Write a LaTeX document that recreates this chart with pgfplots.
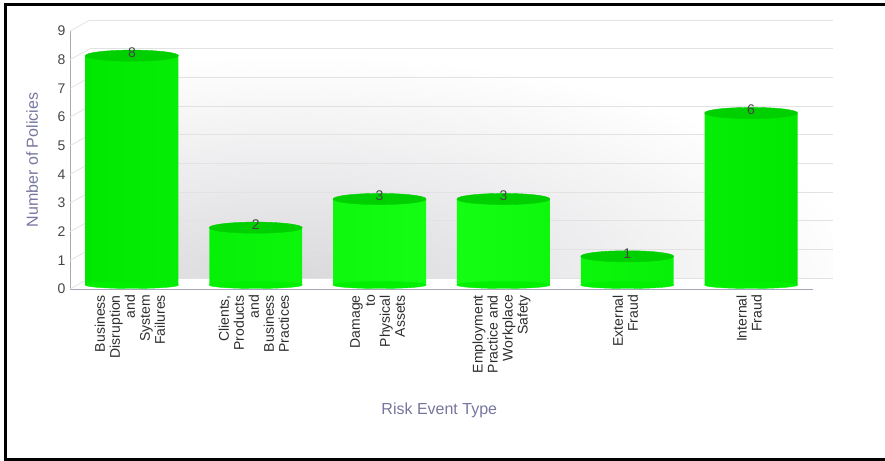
\documentclass[border=0pt]{standalone}
\usepackage{pgfplots}
\usepackage{pgfplotstable}
\pgfplotsset{compat=1.18}
\usepackage{fontspec}
\setmainfont{Liberation Sans}
\definecolor{axtitle}{RGB}{118,118,158}
\definecolor{ticktxt}{RGB}{70,70,70}
\definecolor{cattxt}{RGB}{45,45,45}
\definecolor{gridc}{RGB}{226,226,226}
\definecolor{barmid}{RGB}{20,255,20}
\definecolor{baredge}{RGB}{0,232,0}
\definecolor{bartop}{RGB}{0,208,0}
\definecolor{barbot}{RGB}{0,240,0}
\definecolor{xaxisc}{RGB}{165,165,185}
\definecolor{yaxisc}{RGB}{170,170,170}
\definecolor{glowc}{RGB}{216,216,218}
\definecolor{glowm}{RGB}{234,234,236}
\pgfdeclareradialshading{wallglow}{\pgfpoint{0bp}{0bp}}{color(0bp)=(glowc); color(9bp)=(glowm); color(20bp)=(white); color(50bp)=(white)}
\pgfplotstableread{
x y
0 8
1 2
2 3
3 3
4 1
5 6
}\policies
\begin{document}
\begin{tikzpicture}
\useasboundingbox (0pt,0pt) rectangle (885pt,-460pt);
\begin{axis}[
  at={(70pt,-289pt)}, anchor=south west,
  scale only axis, width=743pt, height=258pt,
  xmin=-0.5, xmax=5.5, ymin=0, ymax=9,
  clip=false,
  axis lines=left,
  x axis line style={-, draw=xaxisc, line width=1pt},
  y axis line style={-, draw=yaxisc, line width=0.8pt},
  major tick length=0pt,
  ytick={0,1,...,9},
  xtick={0,1,2,3,4,5},
  xticklabels={
    {Business\\Disruption\\and\\System\\Failures},
    {Clients,\\Products\\and\\Business\\Practices},
    {Damage\\to\\Physical\\Assets},
    {Employment\\Practice and\\Workplace\\Safety},
    {External\\Fraud},
    {Internal\\Fraud}},
  /pgf/number format/assume math mode=true,
  yticklabel style={font=\fontsize{14}{15}\selectfont, text=ticktxt, xshift=-1pt},
  xticklabel style={font=\fontsize{14}{15}\selectfont, text=cattxt, rotate=90, anchor=east, align=right, inner sep=2pt, xshift=-4pt, yshift=2pt},
  every axis y label/.style={at={(axis description cs:-0.0511,0.5)}, rotate=90, anchor=center},
  every axis x label/.style={at={(axis description cs:0.497,-0.469)}, anchor=center},
  ylabel={Number of Policies},
  xlabel={Risk Event Type},
  label style={font=\fontsize{16}{18}\selectfont, text=axtitle},
]
% back wall with soft grey glow at the lower left
\begin{scope}
  \clip ([shift={(20pt,11pt)}]axis cs:-0.5,0) rectangle ([shift={(20pt,11pt)}]axis cs:5.5,9);
  \shade[shading=wallglow] (axis cs:1.3,0.1) ellipse [x radius=720pt, y radius=290pt];
\end{scope}
\pgfplotsinvokeforeach{0,1,...,9}{
  \draw[gridc, line width=0.8pt] ([shift={(20pt,11pt)}]axis cs:-0.5,#1) -- ([shift={(20pt,11pt)}]axis cs:5.5,#1);
  \draw[gridc, line width=0.8pt] (axis cs:-0.5,#1) -- ([shift={(20pt,11pt)}]axis cs:-0.5,#1);
}
% cylinders: bottom ellipse, body, top ellipse
\addplot[only marks, color=barbot, mark=*, mark size=46.5pt, yshift=4pt,
  mark options={draw=barbot, fill=barbot, yscale=0.075}] table[x=x,y expr=0] {\policies};
\addplot[ybar, bar width=0.75, draw=none, yshift=4pt,
  left color=baredge, right color=baredge, middle color=barmid] table[x=x,y=y] {\policies};
\addplot[only marks, color=bartop, mark=*, mark size=46.5pt, yshift=4pt,
  mark options={draw=bartop, fill=bartop, yscale=0.12},
  nodes near coords,
  every node near coord/.append style={anchor=center, yshift=3pt, font=\fontsize{14}{15}\selectfont, text=ticktxt}] table[x=x,y=y] {\policies};
\end{axis}
\draw[line width=3.5pt, line join=miter] (892pt,-4.75pt) -- (5.5pt,-4.75pt) -- (5.5pt,-459.5pt) -- (892pt,-459.5pt);
\end{tikzpicture}
\end{document}
